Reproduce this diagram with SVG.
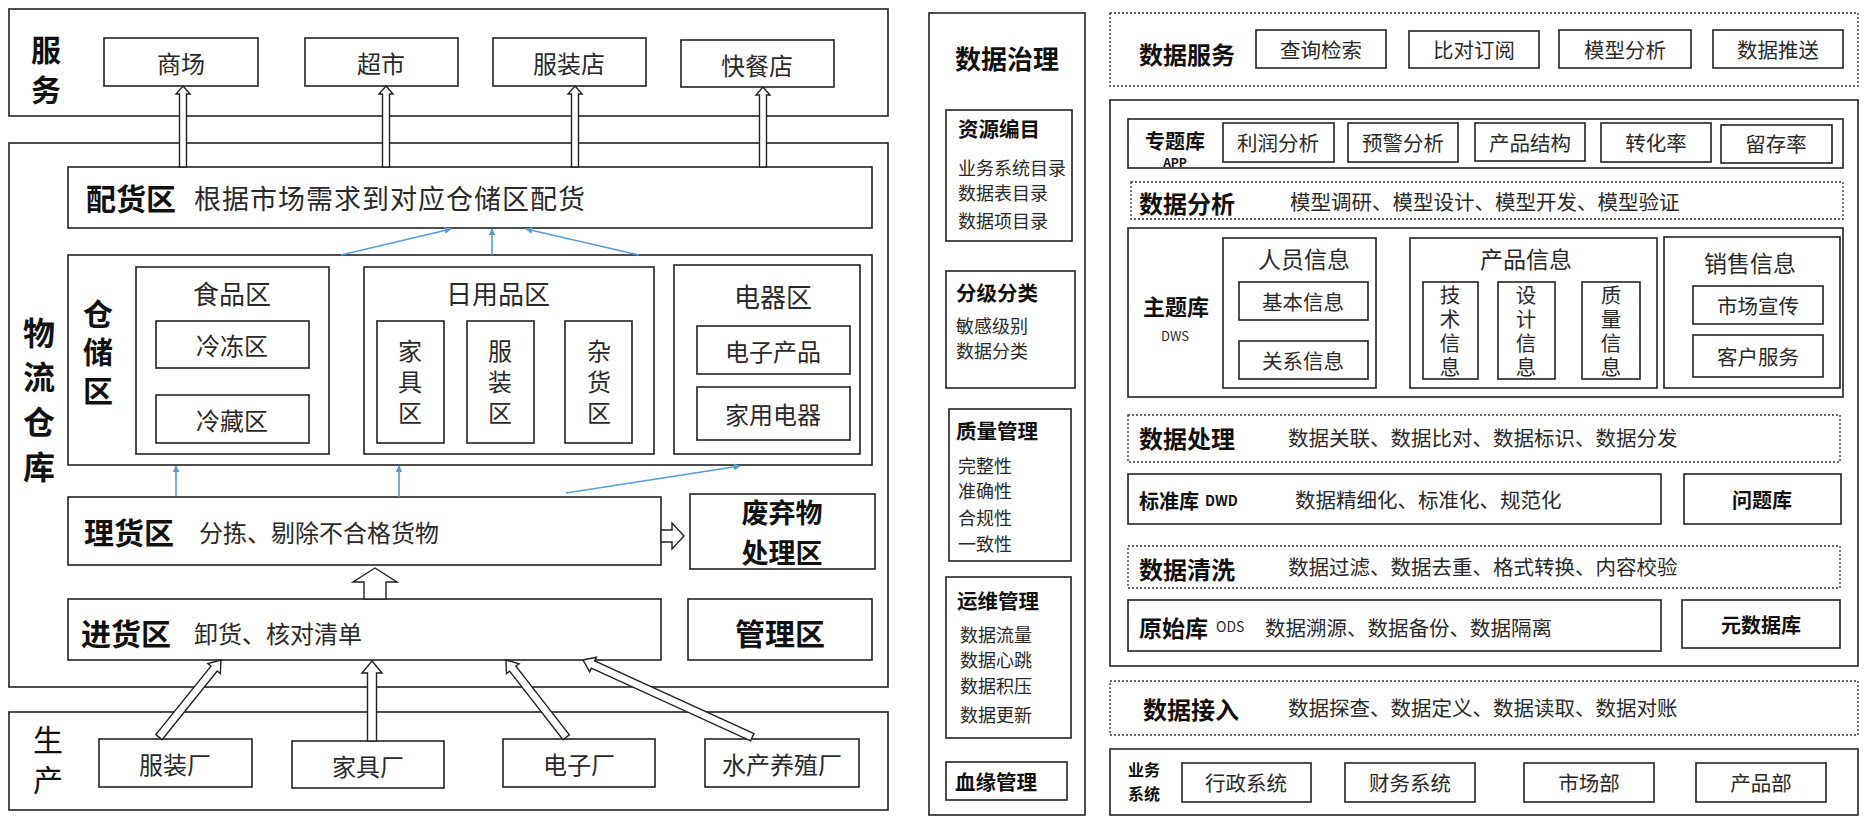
<svg xmlns="http://www.w3.org/2000/svg" width="1864" height="828" viewBox="0 0 1864 828">
<style>
.bx{fill:#fff;stroke:#222;stroke-width:1.6}
.ds{fill:#fff;stroke:#333;stroke-width:1.3;stroke-dasharray:2 2}
.ha{fill:#fff;stroke:#222;stroke-width:1.4;stroke-linejoin:miter}
.bl{stroke:#5B9BD5;stroke-width:1.6;fill:none;marker-end:url(#ba)}
text{font-family:"Noto Sans CJK SC","Noto Sans",sans-serif;fill:#2a2a2a;dominant-baseline:central}
.c{text-anchor:middle}
.v{writing-mode:vertical-rl;text-anchor:middle}
.b{font-weight:bold;fill:#111}
.f24{font-size:24px}.f26{font-size:26px}.f30{font-size:30px}
.r20{font-size:20.5px}.r18{font-size:18px}
</style>
<defs>
<marker id="ba" viewBox="0 0 10 10" refX="9" refY="5" markerWidth="7" markerHeight="7" orient="auto" markerUnits="userSpaceOnUse">
<path d="M0,0 L10,5 L0,10 z" fill="#5B9BD5"/>
</marker>
</defs>
<rect width="1864" height="828" fill="#fff"/>

<!-- LEFT: service -->
<g id="service">
<rect class="bx" x="9" y="9" width="879" height="107"/>
<text class="b f30 v" x="46" y="75" style="letter-spacing:10px">服务</text>
</g>
<g id="shop1"><rect class="bx" x="104" y="38" width="154" height="48"/><text class="f24 c" x="181" y="62">商场</text></g>
<g id="shop2"><rect class="bx" x="305" y="38" width="153" height="48"/><text class="f24 c" x="381" y="62">超市</text></g>
<g id="shop3"><rect class="bx" x="493" y="38" width="153" height="48"/><text class="f24 c" x="569" y="62">服装店</text></g>
<g id="shop4"><rect class="bx" x="681" y="40" width="153" height="47"/><text class="f24 c" x="757" y="64">快餐店</text></g>

<g id="logistics">
<rect class="bx" x="9" y="143" width="879" height="544"/>
<text class="b v" style="font-size:32px;letter-spacing:12.7px" x="39" y="406">物流仓库</text>
</g>
<g id="peihuo">
<rect class="bx" x="68" y="167" width="804" height="61"/>
<text class="b f30" x="86" y="197">配货区</text>
<text style="font-size:27px;letter-spacing:1px" x="194" y="197">根据市场需求到对应仓储区配货</text>
</g>
<g id="cangchu">
<rect class="bx" x="68" y="255" width="804" height="210"/>
<text class="b f30 v" x="98" y="356" style="letter-spacing:8.5px">仓储区</text>
</g>
<g id="food">
<rect class="bx" x="136" y="267" width="193" height="187"/>
<text class="f26 c" x="232" y="292">食品区</text>
<rect class="bx" x="156" y="321" width="153" height="47"/><text class="f24 c" x="232" y="344">冷冻区</text>
<rect class="bx" x="156" y="395" width="153" height="48"/><text class="f24 c" x="232" y="419">冷藏区</text>
</g>
<g id="daily">
<rect class="bx" x="364" y="267" width="290" height="187"/>
<text class="f26 c" x="498" y="292">日用品区</text>
<rect class="bx" x="377" y="321" width="67" height="122"/>
<text class="f24 v" x="410" y="385" style="letter-spacing:7px">家具区</text>
<rect class="bx" x="467" y="321" width="67" height="122"/>
<text class="f24 v" x="500" y="385" style="letter-spacing:7px">服装区</text>
<rect class="bx" x="565" y="321" width="67" height="122"/>
<text class="f24 v" x="599" y="385" style="letter-spacing:7px">杂货区</text>
</g>
<g id="elec">
<rect class="bx" x="674" y="265" width="186" height="189"/>
<text class="f26 c" x="773" y="295">电器区</text>
<rect class="bx" x="697" y="326" width="153" height="48"/><text class="f24 c" x="773" y="350">电子产品</text>
<rect class="bx" x="697" y="387" width="153" height="53"/><text class="f24 c" x="773" y="413">家用电器</text>
</g>
<g id="lihuo">
<rect class="bx" x="68" y="497" width="593" height="68"/>
<text class="b f30" x="84" y="531">理货区</text>
<text class="f24" x="199" y="531">分拣、剔除不合格货物</text>
</g>
<g id="waste">
<rect class="bx" x="690" y="494" width="185" height="75"/>
<text class="b c" style="font-size:27px" x="782" y="511">废弃物</text>
<text class="b c" style="font-size:27px" x="782" y="551">处理区</text>
</g>
<g id="jinhuo">
<rect class="bx" x="68" y="599" width="593" height="61"/>
<text class="b f30" x="81" y="632">进货区</text>
<text class="f24" x="194" y="632">卸货、核对清单</text>
</g>
<g id="manage">
<rect class="bx" x="688" y="599" width="184" height="61"/>
<text class="b f30 c" x="780" y="632">管理区</text>
</g>
<g id="production">
<rect class="bx" x="9" y="712" width="879" height="98"/>
<text class="f30 v" x="48" y="765" style="fill:#111;letter-spacing:10px">生产</text>
</g>
<g id="f1"><rect class="bx" x="99" y="739" width="153" height="48"/><text class="f24 c" x="175" y="763">服装厂</text></g>
<g id="f2"><rect class="bx" x="292" y="741" width="152" height="47"/><text class="f24 c" x="368" y="765">家具厂</text></g>
<g id="f3"><rect class="bx" x="503" y="739" width="152" height="48"/><text class="f24 c" x="579" y="763">电子厂</text></g>
<g id="f4"><rect class="bx" x="705" y="739" width="154" height="48"/><text class="f24 c" x="782" y="763">水产养殖厂</text></g>

<g id="connectors-left">
<polygon class="ha" points="183,86 190,94 186.5,94 186.5,167 179.5,167 179.5,94 176,94"/>
<polygon class="ha" points="386,86 393,94 389.5,94 389.5,167 382.5,167 382.5,94 379,94"/>
<polygon class="ha" points="575,86 582,94 578.5,94 578.5,167 571.5,167 571.5,94 568,94"/>
<polygon class="ha" points="763,87 770,95 766.5,95 766.5,167 759.5,167 759.5,95 756,95"/>
<line class="bl" x1="341" y1="255" x2="451" y2="229"/>
<line class="bl" x1="492" y1="255" x2="492" y2="229"/>
<line class="bl" x1="639" y1="255" x2="526" y2="229"/>
<line class="bl" x1="176" y1="496" x2="176" y2="466"/>
<line class="bl" x1="399" y1="497" x2="399" y2="466"/>
<line class="bl" x1="566" y1="493" x2="740" y2="466"/>
<polygon class="ha" points="661,530 672,530 672,523 684,536 672,549 672,542 661,542"/>
<polygon class="ha" points="375,568 397,582 386,582 386,599 364,599 364,582 353,582"/>
<polygon class="ha" transform="translate(221,660) rotate(38.8)" points="0,0 8,11 4,11 4,99 -4,99 -4,11 -8,11"/>
<polygon class="ha" transform="translate(372,661)" points="0,0 10,12 4.5,12 4.5,80 -4.5,80 -4.5,12 -10,12"/>
<polygon class="ha" transform="translate(506,660) rotate(-37.9)" points="0,0 8,11 4,11 4,98 -4,98 -4,11 -8,11"/>
<polygon class="ha" transform="translate(583,660) rotate(-65.5)" points="0,0 8,11 4,11 4,186 -4,186 -4,11 -8,11"/>
</g>

<!-- RIGHT -->
<g id="governance">
<rect class="bx" x="929" y="13" width="156" height="802"/>
<text class="b c" style="font-size:26px" x="1007" y="57">数据治理</text>
</g>
<g id="g1">
<rect class="bx" x="946" y="110" width="126" height="131"/>
<text class="b r20" x="958" y="128">资源编目</text>
<text class="r18" x="958" y="167">业务系统目录</text>
<text class="r18" x="958" y="192">数据表目录</text>
<text class="r18" x="958" y="220">数据项目录</text>
</g>
<g id="g2">
<rect class="bx" x="946" y="271" width="129" height="117"/>
<text class="b r20" x="956" y="292">分级分类</text>
<text class="r18" x="956" y="325">敏感级别</text>
<text class="r18" x="956" y="350">数据分类</text>
</g>
<g id="g3">
<rect class="bx" x="949" y="409" width="122" height="152"/>
<text class="b r20" x="956" y="430">质量管理</text>
<text class="r18" x="958" y="465">完整性</text>
<text class="r18" x="958" y="490">准确性</text>
<text class="r18" x="958" y="517">合规性</text>
<text class="r18" x="958" y="543">一致性</text>
</g>
<g id="g4">
<rect class="bx" x="946" y="577" width="125" height="161"/>
<text class="b r20" x="957" y="600">运维管理</text>
<text class="r18" x="960" y="634">数据流量</text>
<text class="r18" x="960" y="659">数据心跳</text>
<text class="r18" x="960" y="685">数据积压</text>
<text class="r18" x="960" y="714">数据更新</text>
</g>
<g id="g5">
<rect class="bx" x="946" y="762" width="121" height="38"/>
<text class="b r20" x="955" y="781">血缘管理</text>
</g>

<g id="dataservice">
<rect class="ds" x="1110" y="13" width="748" height="73"/>
<text class="b f24" x="1139" y="53">数据服务</text>
<rect class="bx" x="1256" y="30" width="130" height="38"/><text class="r20 c" x="1321" y="49">查询检索</text>
<rect class="bx" x="1409" y="31" width="130" height="37"/><text class="r20 c" x="1474" y="49">比对订阅</text>
<rect class="bx" x="1559" y="30" width="132" height="38"/><text class="r20 c" x="1625" y="49">模型分析</text>
<rect class="bx" x="1713" y="30" width="130" height="38"/><text class="r20 c" x="1778" y="49">数据推送</text>
</g>
<g id="warehouse">
<rect class="bx" x="1110" y="100" width="748" height="566"/>
</g>
<g id="app">
<rect class="bx" x="1128" y="119" width="715" height="49"/>
<text class="b c" style="font-size:20px" x="1175" y="140">专题库</text>
<text class="b c" style="font-size:12px" x="1175" y="161">APP</text>
<rect class="bx" x="1223" y="123" width="111" height="39"/><text class="r20 c" x="1278" y="142">利润分析</text>
<rect class="bx" x="1348" y="123" width="110" height="39"/><text class="r20 c" x="1403" y="142">预警分析</text>
<rect class="bx" x="1475" y="123" width="110" height="38"/><text class="r20 c" x="1530" y="142">产品结构</text>
<rect class="bx" x="1601" y="123" width="110" height="39"/><text class="r20 c" x="1656" y="142">转化率</text>
<rect class="bx" x="1721" y="125" width="111" height="38"/><text class="r20 c" x="1776" y="143">留存率</text>
</g>
<g id="analysis">
<rect class="ds" x="1131" y="182" width="712" height="37"/>
<text class="b f24" x="1139" y="202">数据分析</text>
<text class="r20" x="1290" y="201">模型调研、模型设计、模型开发、模型验证</text>
</g>
<g id="dws">
<rect class="bx" x="1128" y="228" width="715" height="169"/>
<text class="b c" style="font-size:22px" x="1176" y="305">主题库</text>
<text class="c" style="font-size:13px" x="1175" y="335">DWS</text>
<rect class="bx" x="1223" y="238" width="153" height="150"/>
<text class="c" style="font-size:23px" x="1304" y="258">人员信息</text>
<rect class="bx" x="1239" y="282" width="129" height="38"/><text class="r20 c" x="1303" y="301">基本信息</text>
<rect class="bx" x="1239" y="341" width="129" height="38"/><text class="r20 c" x="1303" y="360">关系信息</text>
<rect class="bx" x="1410" y="238" width="247" height="150"/>
<text class="c" style="font-size:23px" x="1526" y="258">产品信息</text>
<rect class="bx" x="1423" y="282" width="55" height="97"/>
<text class="r20 v" x="1450" y="333" style="letter-spacing:3.5px">技术信息</text>
<rect class="bx" x="1498" y="282" width="57" height="97"/>
<text class="r20 v" x="1526" y="333" style="letter-spacing:3.5px">设计信息</text>
<rect class="bx" x="1582" y="282" width="58" height="97"/>
<text class="r20 v" x="1611" y="333" style="letter-spacing:3.5px">质量信息</text>
<rect class="bx" x="1664" y="237" width="176" height="151"/>
<text class="c" style="font-size:23px" x="1750" y="262">销售信息</text>
<rect class="bx" x="1693" y="286" width="130" height="38"/><text class="r20 c" x="1758" y="305">市场宣传</text>
<rect class="bx" x="1693" y="335" width="130" height="42"/><text class="r20 c" x="1758" y="356">客户服务</text>
</g>
<g id="process">
<rect class="ds" x="1128" y="415" width="712" height="47"/>
<text class="b f24" x="1139" y="437">数据处理</text>
<text class="r20" x="1288" y="437">数据关联、数据比对、数据标识、数据分发</text>
</g>
<g id="dwd">
<rect class="bx" x="1128" y="474" width="533" height="50"/>
<text class="b" style="font-size:20px" x="1139" y="500">标准库</text>
<text class="b" style="font-size:14px" x="1205" y="500">DWD</text>
<text class="r20" x="1295" y="499">数据精细化、标准化、规范化</text>
</g>
<g id="problem">
<rect class="bx" x="1684" y="474" width="157" height="50"/>
<text class="b c" style="font-size:20px" x="1762" y="499">问题库</text>
</g>
<g id="clean">
<rect class="ds" x="1128" y="546" width="712" height="42"/>
<text class="b f24" x="1139" y="568">数据清洗</text>
<text class="r20" x="1288" y="566">数据过滤、数据去重、格式转换、内容校验</text>
</g>
<g id="ods">
<rect class="bx" x="1128" y="600" width="533" height="51"/>
<text class="b" style="font-size:23px" x="1139" y="627">原始库</text>
<text style="font-size:14px" x="1216" y="626">ODS</text>
<text class="r20" x="1265" y="627">数据溯源、数据备份、数据隔离</text>
</g>
<g id="meta">
<rect class="bx" x="1682" y="600" width="158" height="48"/>
<text class="b c" style="font-size:20px" x="1761" y="624">元数据库</text>
</g>
<g id="ingest">
<rect class="ds" x="1110" y="681" width="748" height="54"/>
<text class="b f24" x="1143" y="708">数据接入</text>
<text class="r20" x="1288" y="707">数据探查、数据定义、数据读取、数据对账</text>
</g>
<g id="biz">
<rect class="bx" x="1110" y="749" width="748" height="66"/>
<text class="b c" style="font-size:16px" x="1144" y="769">业务</text>
<text class="b c" style="font-size:16px" x="1144" y="793">系统</text>
<rect class="bx" x="1182" y="763" width="129" height="39"/><text class="r20 c" x="1246" y="782">行政系统</text>
<rect class="bx" x="1345" y="763" width="130" height="39"/><text class="r20 c" x="1410" y="782">财务系统</text>
<rect class="bx" x="1524" y="763" width="130" height="39"/><text class="r20 c" x="1589" y="782">市场部</text>
<rect class="bx" x="1696" y="763" width="130" height="39"/><text class="r20 c" x="1761" y="782">产品部</text>
</g>
</svg>
